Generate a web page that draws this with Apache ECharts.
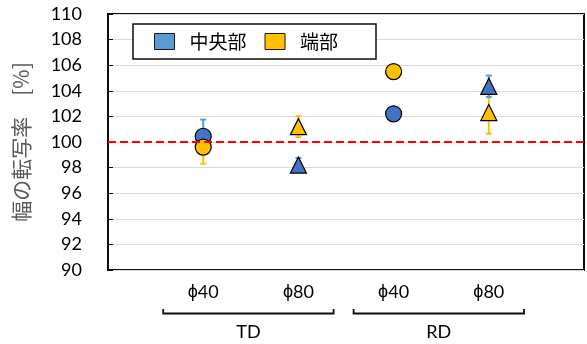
<!DOCTYPE html>
<html>
<head>
<meta charset="utf-8">
<script src="https://cdn.jsdelivr.net/npm/echarts@6/dist/echarts.min.js"></script>
<style>
  html, body { margin: 0; padding: 0; background: #ffffff; }
  #chart { width: 587px; height: 344px; }
</style>
</head>
<body>
<div id="chart"></div>
<script>
// Sample positions along the x axis and their labels
const positions = [1, 2, 3, 4];
const sizeLabels = ['ϕ40', 'ϕ80', 'ϕ40', 'ϕ80'];
const groupOf = ['TD', 'TD', 'RD', 'RD'];
const groupNames = ['TD', 'RD'];
const markerShapes = ['circle', 'triangle', 'circle', 'triangle'];

// Width transfer ratio [%] with error half-widths
const seriesNames = ['中央部', '端部'];
const centerValues = [100.45, 98.2, 102.2, 104.35];
const centerErrors = [1.3, 0.55, 0, 0.84];
const edgeValues = [99.6, 101.2, 105.5, 102.3];
const edgeErrors = [1.3, 0.82, 0, 1.65];

// Y axis scale
const yMin = 90, yMax = 110, yStep = 2;
const refValue = 100;

const LABEL_FONT = 'Lato, "Open Sans", sans-serif';
const PHI_FONT = '"Liberation Sans", "DejaVu Sans", sans-serif';
const CJK_FONT = '"Noto Sans CJK JP", sans-serif';

const chart = echarts.init(document.getElementById('chart'), null, { renderer: 'canvas' });

function pointData(values) {
  return positions.map((x, i) => ({ value: [x, values[i]], symbol: markerShapes[i] }));
}
function errorData(values, errors) {
  return positions
    .map((x, i) => [x, values[i] - errors[i], values[i] + errors[i]])
    .filter(d => d[2] > d[1]);
}
function errorSeries(name, values, errors, color) {
  return {
    name: name,
    type: 'custom',
    z: 2,
    encode: { x: 0, y: [1, 2] },
    data: errorData(values, errors),
    renderItem: function (params, api) {
      const lo = api.coord([api.value(0), api.value(1)]);
      const hi = api.coord([api.value(0), api.value(2)]);
      const cap = 3;
      const st = { stroke: color, lineWidth: 2 };
      return {
        type: 'group',
        children: [
          { type: 'line', shape: { x1: lo[0], y1: lo[1], x2: hi[0], y2: hi[1] }, style: st },
          { type: 'line', shape: { x1: lo[0] - cap, y1: lo[1], x2: lo[0] + cap, y2: lo[1] }, style: st },
          { type: 'line', shape: { x1: hi[0] - cap, y1: hi[1], x2: hi[0] + cap, y2: hi[1] }, style: st }
        ]
      };
    }
  };
}

// Group brackets (TD / RD) under the sample labels
const groupData = groupNames.map(g => {
  const xs = positions.filter((x, i) => groupOf[i] === g);
  return [Math.min.apply(null, xs), Math.max.apply(null, xs), yMin, g];
});

const option = {
  backgroundColor: '#ffffff',
  animation: false,
  grid: {
    left: 108, top: 14, right: -4, bottom: 74,
    show: true, borderColor: '#0d0d0d', borderWidth: 2, backgroundColor: 'transparent'
  },
  legend: {
    left: 133, top: 24,
    orient: 'horizontal',
    selectedMode: false,
    backgroundColor: '#ffffff',
    borderColor: '#0d0d0d',
    borderWidth: 1.5,
    padding: [8, 38, 8, 21],
    itemWidth: 20, itemHeight: 16, itemGap: 18,
    icon: 'rect',
    textStyle: { fontFamily: CJK_FONT, fontSize: 19, color: '#000000', lineHeight: 16, padding: [0, 0, 0, 10] },
    data: [
      { name: seriesNames[0], itemStyle: { color: '#5B9BD5', borderColor: '#1a1a1a', borderWidth: 1 } },
      { name: seriesNames[1], itemStyle: { color: '#FFC000', borderColor: '#1a1a1a', borderWidth: 1 } }
    ]
  },
  xAxis: {
    type: 'value', min: 0, max: positions.length + 1, interval: 1,
    axisLine: { show: false },
    axisTick: { show: false },
    splitLine: { show: false },
    axisLabel: {
      margin: 13,
      fontFamily: LABEL_FONT, fontSize: 18, color: '#000000',
      formatter: function (v) {
        const i = positions.indexOf(v);
        if (i < 0) return '';
        const s = sizeLabels[i];
        return '{p|' + s.charAt(0) + '}' + s.slice(1);
      },
      rich: {
        p: { fontFamily: PHI_FONT, fontSize: 18, color: '#000000' }
      }
    }
  },
  yAxis: {
    type: 'value', min: yMin, max: yMax, interval: yStep,
    name: '幅の転写率　[%]',
    nameLocation: 'middle',
    nameGap: 76,
    nameTextStyle: { fontFamily: CJK_FONT, fontSize: 21, color: '#595959' },
    axisLine: { show: false },
    axisTick: { show: true, inside: true, length: 5, lineStyle: { color: '#0d0d0d', width: 1 } },
    splitLine: { show: true, lineStyle: { color: '#D9D9D9', width: 1 } },
    axisLabel: { margin: 26, fontFamily: LABEL_FONT, fontSize: 18, color: '#000000' }
  },
  series: [
    errorSeries('err-edge', edgeValues, edgeErrors, '#FFC000'),
    errorSeries('err-center', centerValues, centerErrors, '#5B9BD5'),
    {
      name: seriesNames[0],
      type: 'scatter',
      z: 3,
      symbolSize: 16,
      itemStyle: { color: '#4472C4', borderColor: '#000000', borderWidth: 1.2, opacity: 1 },
      data: pointData(centerValues),
      markLine: {
        silent: true,
        symbol: 'none',
        label: { show: false },
        lineStyle: { color: '#FF0000', type: [8, 4], width: 2 },
        data: [{ yAxis: refValue }]
      }
    },
    {
      name: seriesNames[1],
      type: 'scatter',
      z: 4,
      symbolSize: 16,
      itemStyle: { color: '#FFC000', borderColor: '#000000', borderWidth: 1.2, opacity: 1 },
      data: pointData(edgeValues)
    },
    {
      name: 'groups',
      type: 'custom',
      clip: false,
      silent: true,
      encode: { x: [0, 1], y: 2 },
      data: groupData,
      renderItem: function (params, api) {
        const cs = params.coordSys;
        const base = cs.y + cs.height;
        const x0 = api.coord([api.value(0) - 0.42, yMin])[0];
        const x1 = api.coord([api.value(1) + 0.37, yMin])[0];
        const name = groupData[params.dataIndex][3];
        return {
          type: 'group',
          children: [
            {
              type: 'polyline',
              shape: { points: [[x0, base + 39], [x0, base + 43.5], [x1, base + 43.5], [x1, base + 39]] },
              style: { stroke: '#0d0d0d', lineWidth: 1.8, fill: null }
            },
            {
              type: 'text',
              style: {
                text: name, x: (x0 + x1) / 2, y: base + 62,
                align: 'center', verticalAlign: 'middle',
                font: '18px ' + LABEL_FONT, fill: '#000000'
              }
            }
          ]
        };
      }
    }
  ]
};

chart.setOption(option);
</script>
</body>
</html>
